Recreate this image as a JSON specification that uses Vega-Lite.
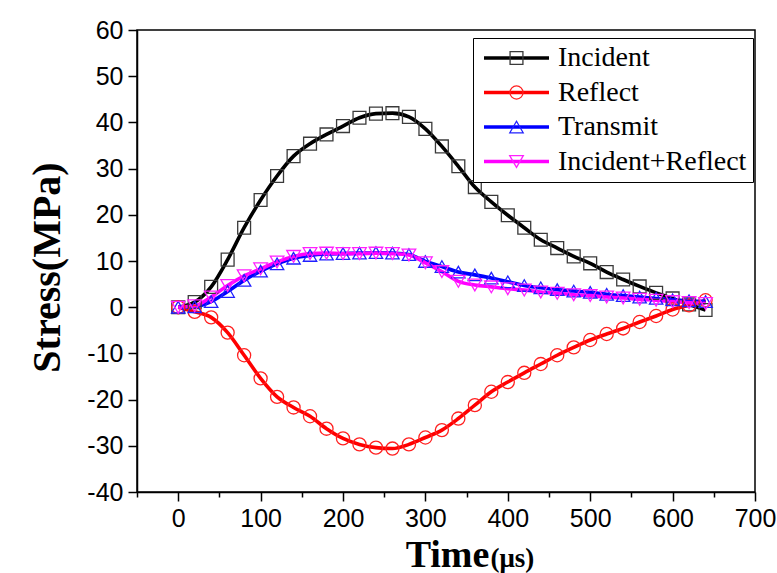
{
  "$schema": "https://vega.github.io/schema/vega-lite/v6.json",
  "width": 618,
  "height": 462,
  "autosize": {"type": "none"},
  "padding": {"left": 137, "top": 30, "right": 22, "bottom": 81},
  "background": "white",
  "config": {
    "view": {"stroke": "black", "strokeWidth": 1.5},
    "axis": {"grid": false}
  },
  "datasets": {
    "curves": [
      {"series":"Incident","t":0,"v":0},{"series":"Incident","t":20,"v":1.1},{"series":"Incident","t":40,"v":4.4},{"series":"Incident","t":60,"v":10.3},{"series":"Incident","t":80,"v":17.2},{"series":"Incident","t":100,"v":23.2},{"series":"Incident","t":120,"v":28.4},{"series":"Incident","t":140,"v":32.7},{"series":"Incident","t":160,"v":35.4},{"series":"Incident","t":180,"v":37.4},{"series":"Incident","t":200,"v":39.2},{"series":"Incident","t":220,"v":41.0},{"series":"Incident","t":240,"v":41.9},{"series":"Incident","t":260,"v":42.0},{"series":"Incident","t":280,"v":41.2},{"series":"Incident","t":300,"v":38.6},{"series":"Incident","t":320,"v":34.8},{"series":"Incident","t":340,"v":30.5},{"series":"Incident","t":360,"v":26.0},{"series":"Incident","t":380,"v":22.8},{"series":"Incident","t":400,"v":19.9},{"series":"Incident","t":420,"v":17.2},{"series":"Incident","t":440,"v":14.6},{"series":"Incident","t":460,"v":12.8},{"series":"Incident","t":480,"v":11.0},{"series":"Incident","t":500,"v":9.5},{"series":"Incident","t":520,"v":7.6},{"series":"Incident","t":540,"v":6.0},{"series":"Incident","t":560,"v":4.5},{"series":"Incident","t":580,"v":3.1},{"series":"Incident","t":600,"v":1.9},{"series":"Incident","t":620,"v":0.6},{"series":"Incident","t":640,"v":-0.6},
      {"series":"Reflect","t":0,"v":0},{"series":"Reflect","t":20,"v":-1.0},{"series":"Reflect","t":40,"v":-2.2},{"series":"Reflect","t":60,"v":-5.5},{"series":"Reflect","t":80,"v":-10.4},{"series":"Reflect","t":100,"v":-15.4},{"series":"Reflect","t":120,"v":-19.4},{"series":"Reflect","t":140,"v":-21.7},{"series":"Reflect","t":160,"v":-23.6},{"series":"Reflect","t":180,"v":-26.3},{"series":"Reflect","t":200,"v":-28.4},{"series":"Reflect","t":220,"v":-29.7},{"series":"Reflect","t":240,"v":-30.4},{"series":"Reflect","t":260,"v":-30.6},{"series":"Reflect","t":280,"v":-29.7},{"series":"Reflect","t":300,"v":-28.2},{"series":"Reflect","t":320,"v":-26.6},{"series":"Reflect","t":340,"v":-24.1},{"series":"Reflect","t":360,"v":-21.2},{"series":"Reflect","t":380,"v":-18.3},{"series":"Reflect","t":400,"v":-16.2},{"series":"Reflect","t":420,"v":-14.2},{"series":"Reflect","t":440,"v":-12.3},{"series":"Reflect","t":460,"v":-10.4},{"series":"Reflect","t":480,"v":-8.7},{"series":"Reflect","t":500,"v":-7.1},{"series":"Reflect","t":520,"v":-5.8},{"series":"Reflect","t":540,"v":-4.6},{"series":"Reflect","t":560,"v":-3.2},{"series":"Reflect","t":580,"v":-1.9},{"series":"Reflect","t":600,"v":-0.5},{"series":"Reflect","t":620,"v":0.4},{"series":"Reflect","t":640,"v":1.5},
      {"series":"Transmit","t":0,"v":0},{"series":"Transmit","t":20,"v":0.1},{"series":"Transmit","t":40,"v":1.2},{"series":"Transmit","t":60,"v":3.4},{"series":"Transmit","t":80,"v":5.8},{"series":"Transmit","t":100,"v":7.8},{"series":"Transmit","t":120,"v":9.4},{"series":"Transmit","t":140,"v":10.6},{"series":"Transmit","t":160,"v":11.2},{"series":"Transmit","t":180,"v":11.5},{"series":"Transmit","t":200,"v":11.6},{"series":"Transmit","t":220,"v":11.7},{"series":"Transmit","t":240,"v":11.8},{"series":"Transmit","t":260,"v":11.7},{"series":"Transmit","t":280,"v":11.4},{"series":"Transmit","t":300,"v":9.9},{"series":"Transmit","t":320,"v":8.8},{"series":"Transmit","t":340,"v":7.6},{"series":"Transmit","t":360,"v":7.0},{"series":"Transmit","t":380,"v":6.3},{"series":"Transmit","t":400,"v":5.5},{"series":"Transmit","t":420,"v":4.7},{"series":"Transmit","t":440,"v":4.2},{"series":"Transmit","t":460,"v":3.8},{"series":"Transmit","t":480,"v":3.5},{"series":"Transmit","t":500,"v":3.2},{"series":"Transmit","t":520,"v":2.8},{"series":"Transmit","t":540,"v":2.5},{"series":"Transmit","t":560,"v":2.2},{"series":"Transmit","t":580,"v":1.9},{"series":"Transmit","t":600,"v":1.6},{"series":"Transmit","t":620,"v":1.4},{"series":"Transmit","t":640,"v":1.2},
      {"series":"Incident+Reflect","t":0,"v":0},{"series":"Incident+Reflect","t":20,"v":0.3},{"series":"Incident+Reflect","t":40,"v":2.2},{"series":"Incident+Reflect","t":60,"v":4.7},{"series":"Incident+Reflect","t":80,"v":6.8},{"series":"Incident+Reflect","t":100,"v":8.3},{"series":"Incident+Reflect","t":120,"v":9.8},{"series":"Incident+Reflect","t":140,"v":11.0},{"series":"Incident+Reflect","t":160,"v":11.6},{"series":"Incident+Reflect","t":180,"v":11.7},{"series":"Incident+Reflect","t":200,"v":11.6},{"series":"Incident+Reflect","t":220,"v":11.6},{"series":"Incident+Reflect","t":240,"v":11.7},{"series":"Incident+Reflect","t":260,"v":11.6},{"series":"Incident+Reflect","t":280,"v":11.3},{"series":"Incident+Reflect","t":300,"v":9.6},{"series":"Incident+Reflect","t":320,"v":7.7},{"series":"Incident+Reflect","t":340,"v":5.6},{"series":"Incident+Reflect","t":360,"v":4.8},{"series":"Incident+Reflect","t":380,"v":4.4},{"series":"Incident+Reflect","t":400,"v":4.0},{"series":"Incident+Reflect","t":420,"v":3.7},{"series":"Incident+Reflect","t":440,"v":3.3},{"series":"Incident+Reflect","t":460,"v":3.0},{"series":"Incident+Reflect","t":480,"v":2.7},{"series":"Incident+Reflect","t":500,"v":2.5},{"series":"Incident+Reflect","t":520,"v":2.2},{"series":"Incident+Reflect","t":540,"v":2.0},{"series":"Incident+Reflect","t":560,"v":1.7},{"series":"Incident+Reflect","t":580,"v":1.5},{"series":"Incident+Reflect","t":600,"v":1.2},{"series":"Incident+Reflect","t":620,"v":1.0},{"series":"Incident+Reflect","t":640,"v":0.8}
    ]
  },
  "data": {"name": "curves"},
  "resolve": {"axis": {"x": "independent"}},
  "layer": [
    {
      "mark": {"type": "line", "interpolate": "monotone", "strokeWidth": 3.6},
      "encoding": {
        "x": {
          "field": "t", "type": "quantitative",
          "scale": {"domain": [-50, 700], "nice": false, "zero": false},
          "axis": {
            "orient": "bottom",
            "title": "Time", "values": [-50,0,50,100,150,200,250,300,350,400,450,500,550,600,650,700],
            "labelExpr": "datum.value % 100 === 0 ? '' + datum.value : ''",
            "tickSize": {"condition": {"test": "datum.value % 100 === 0", "value": 9}, "value": 5},
            "tickColor": "black", "tickWidth": 1.5, "domainColor": "black", "domainWidth": 1.5,
            "labelFont": "Liberation Sans", "labelFontSize": 25, "labelColor": "black", "labelPadding": 5,
            "labelFlush": false, "labelOverlap": false,
            "titleFont": "Liberation Serif", "titleFontWeight": "bold", "titleFontSize": 38, "titleColor": "black",
            "titleX": 310, "titleY": 74, "titleAlign": "center", "titleBaseline": "alphabetic"
          }
        },
        "y": {
          "field": "v", "type": "quantitative",
          "scale": {"domain": [-40, 60], "nice": false, "zero": false},
          "axis": {
            "orient": "left",
            "title": "Stress(MPa)", "values": [-40,-35,-30,-25,-20,-15,-10,-5,0,5,10,15,20,25,30,35,40,45,50,55,60],
            "labelExpr": "datum.value % 10 === 0 ? '' + datum.value : ''",
            "tickSize": {"condition": {"test": "datum.value % 10 === 0", "value": 9}, "value": 5},
            "tickColor": "black", "tickWidth": 1.5, "domainColor": "black", "domainWidth": 1.5,
            "labelFont": "Liberation Sans", "labelFontSize": 25, "labelColor": "black", "labelPadding": 5,
            "labelFlush": false, "labelOverlap": false,
            "titleFont": "Liberation Serif", "titleFontWeight": "bold", "titleFontSize": 40, "titleColor": "black",
            "titleX": -78, "titleY": 237, "titleAngle": -90, "titleAlign": "center", "titleBaseline": "alphabetic"
          }
        },
        "color": {
          "field": "series", "type": "nominal",
          "sort": ["Incident", "Reflect", "Transmit", "Incident+Reflect"],
          "scale": {"range": ["black", "#ff0000", "#0000ff", "#ff00ff"]},
          "legend": {
            "orient": "none", "legendX": 336, "legendY": 8, "title": null,
            "padding": 6, "labelFont": "Liberation Serif", "labelFontSize": 28, "labelColor": "black", "labelLimit": 400,
            "labelOffset": 27.5, "symbolOffset": 23.5, "rowPadding": 6.5,
            "symbolType": "M-3.25,0H3.25", "symbolSize": 400, "symbolStrokeWidth": 3.6,
            "strokeColor": "black", "fillColor": "white", "cornerRadius": 0
          }
        },
        "order": {"field": "t", "type": "quantitative"}
      }
    },
    {
      "mark": {"type": "point", "filled": false, "strokeWidth": 1.3, "opacity": 1},
      "encoding": {
        "x": {
          "field": "t", "type": "quantitative",
          "scale": {"domain": [-50, 700], "nice": false, "zero": false},
          "axis": {"orient": "bottom", "title": "(μs)", "labels": false, "ticks": false, "domain": false, "grid": false,
                   "titleFont": "Liberation Serif", "titleFontWeight": "bold", "titleFontSize": 27, "titleColor": "black",
                   "titleX": 353, "titleY": 74, "titleAlign": "left", "titleBaseline": "alphabetic"}
        },
        "y": {"field": "v", "type": "quantitative", "scale": {"domain": [-40, 60], "nice": false, "zero": false}},
        "shape": {
          "field": "series", "type": "nominal",
          "scale": {"domain": ["Incident", "Reflect", "Transmit", "Incident+Reflect"], "range": ["square", "circle", "triangle-up", "triangle-down"]},
          "legend": {
            "orient": "none", "legendX": 336, "legendY": 8, "title": null,
            "padding": 6, "labelFont": "Liberation Serif", "labelFontSize": 28, "labelOpacity": 0, "labelLimit": 400,
            "labelOffset": 27.5, "symbolOffset": 23.5, "rowPadding": 6.5, "symbolStrokeWidth": 1.3,
            "symbolFillColor": "transparent", "strokeColor": null, "fillColor": null
          }
        },
        "stroke": {
          "field": "series", "type": "nominal",
          "scale": {"domain": ["Incident", "Reflect", "Transmit", "Incident+Reflect"], "range": ["#3a3a3a", "#ff2020", "#2020ff", "#ff20ff"]},
          "legend": {
            "orient": "none", "legendX": 336, "legendY": 8, "title": null,
            "padding": 6, "labelFont": "Liberation Serif", "labelFontSize": 28, "labelOpacity": 0, "labelLimit": 400,
            "labelOffset": 27.5, "symbolOffset": 23.5, "rowPadding": 6.5, "symbolStrokeWidth": 1.3,
            "symbolFillColor": "transparent", "strokeColor": null, "fillColor": null
          }
        },
        "size": {
          "field": "series", "type": "nominal",
          "scale": {"domain": ["Incident", "Reflect", "Transmit", "Incident+Reflect"], "range": [165, 185, 230, 230]},
          "legend": {
            "orient": "none", "legendX": 336, "legendY": 8, "title": null,
            "padding": 6, "labelFont": "Liberation Serif", "labelFontSize": 28, "labelOpacity": 0, "labelLimit": 400,
            "labelOffset": 27.5, "symbolOffset": 23.5, "rowPadding": 6.5, "symbolStrokeWidth": 1.3,
            "symbolFillColor": "transparent", "strokeColor": null, "fillColor": null
          }
        }
      }
    }
  ]
}
